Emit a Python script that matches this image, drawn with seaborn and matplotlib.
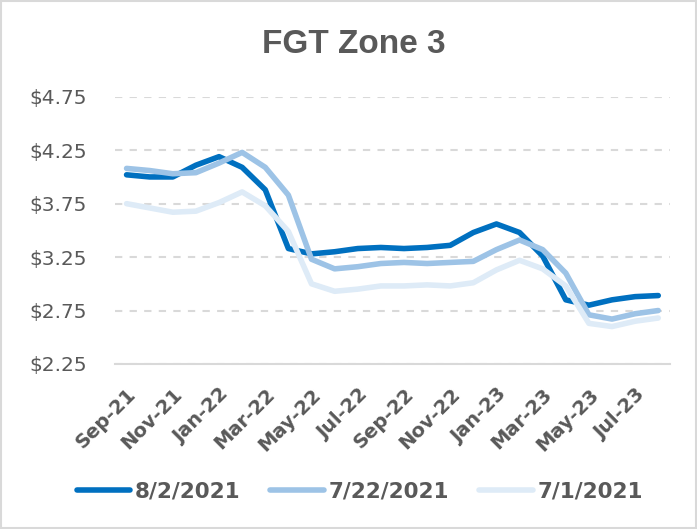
import pandas as pd
import matplotlib
matplotlib.use("Agg")
import matplotlib.pyplot as plt
import seaborn as sns
from matplotlib.patches import Rectangle

# Monthly forward prices, Sep-21 .. Aug-23
months = ["Sep-21", "Oct-21", "Nov-21", "Dec-21", "Jan-22", "Feb-22", "Mar-22", "Apr-22",
          "May-22", "Jun-22", "Jul-22", "Aug-22", "Sep-22", "Oct-22", "Nov-22", "Dec-22",
          "Jan-23", "Feb-23", "Mar-23", "Apr-23", "May-23", "Jun-23", "Jul-23", "Aug-23"]

curve_0802 = [4.02, 4.00, 4.00, 4.11, 4.19, 4.09, 3.88, 3.33, 3.28, 3.30, 3.33, 3.34,
              3.33, 3.34, 3.36, 3.48, 3.56, 3.48, 3.26, 2.85, 2.80, 2.85, 2.88, 2.89]
curve_0722 = [4.08, 4.06, 4.03, 4.04, 4.13, 4.23, 4.09, 3.83, 3.23, 3.14, 3.16, 3.19,
              3.20, 3.19, 3.20, 3.21, 3.32, 3.41, 3.32, 3.10, 2.71, 2.67, 2.72, 2.75]
curve_0701 = [3.75, 3.71, 3.67, 3.68, 3.76, 3.86, 3.73, 3.49, 3.00, 2.93, 2.95, 2.98,
              2.98, 2.99, 2.98, 3.01, 3.13, 3.22, 3.14, 2.98, 2.63, 2.60, 2.65, 2.68]

series_names = ["8/2/2021", "7/22/2021", "7/1/2021"]
colors = {"8/2/2021": "#0070C0", "7/22/2021": "#9DC3E6", "7/1/2021": "#DEEBF7"}
y_ticks = [2.25, 2.75, 3.25, 3.75, 4.25, 4.75]

# Long format for seaborn
frames = []
for name, vals in zip(series_names, [curve_0802, curve_0722, curve_0701]):
    frames.append(pd.DataFrame({"idx": range(len(months)), "month": months,
                                "price": vals, "series": name}))
df = pd.concat(frames, ignore_index=True)

sns.set_style("white")
text_gray = "#595959"
grid_gray = "#D9D9D9"

fig = plt.figure(figsize=(6.97, 5.29), dpi=100)
ax = fig.add_axes([0.165, 0.312, 0.796, 0.505])

sns.lineplot(data=df, x="idx", y="price", hue="series", hue_order=series_names,
             palette=colors, linewidth=4, solid_capstyle="round", legend=False, ax=ax)

# Axes formatting
ax.set_xlim(-0.5, len(months) - 0.5)
ax.set_ylim(2.25, 4.75)
ax.set_yticks(y_ticks)
ax.set_yticklabels([f"${v:.2f}" for v in y_ticks], fontsize=14.5, color=text_gray)
ax.tick_params(axis="y", length=0, pad=20)
ax.yaxis.grid(True, color=grid_gray, linestyle=(0, (3.5, 3.5)), linewidth=1.5)
ax.set_axisbelow(True)

# tick marks between category pairs, labels at the category centres
ax.set_xticks([i - 0.5 for i in range(0, len(months) + 1, 2)])
ax.set_xticklabels([])
ax.set_xticks(list(range(0, len(months), 2)), minor=True)
ax.set_xticklabels(months[::2], minor=True, rotation=45, ha="right",
                   rotation_mode="anchor", fontsize=14, fontweight="bold", color=text_gray)
ax.tick_params(axis="x", which="major", length=7, width=1.5, color=grid_gray, direction="out")
ax.tick_params(axis="x", which="minor", length=0, pad=15)
ax.set_xlabel("")
ax.set_ylabel("")

for side in ["top", "right", "left"]:
    ax.spines[side].set_visible(False)
ax.spines["bottom"].set_color(grid_gray)
ax.spines["bottom"].set_linewidth(1.5)

# Title
fig.text(0.508, 0.915, "FGT Zone 3", ha="center", va="center", fontsize=24,
         fontweight="bold", color=text_gray, family=["Liberation Sans", "DejaVu Sans"])

# Legend at the bottom
fig.legend(handles=ax.lines[:3], labels=series_names, loc="center",
           bbox_to_anchor=(0.516, 0.07), ncol=3, frameon=False, handlelength=2.5,
           handletextpad=0.2, columnspacing=1.4,
           prop={"size": 15.5, "weight": "bold"}, labelcolor=text_gray)

# Chart-area border
fig.patches.append(Rectangle((0.002, 0.002), 0.996, 0.996, transform=fig.transFigure,
                             fill=False, edgecolor=grid_gray, linewidth=1.5))

fig.savefig("out.png", dpi=100)
